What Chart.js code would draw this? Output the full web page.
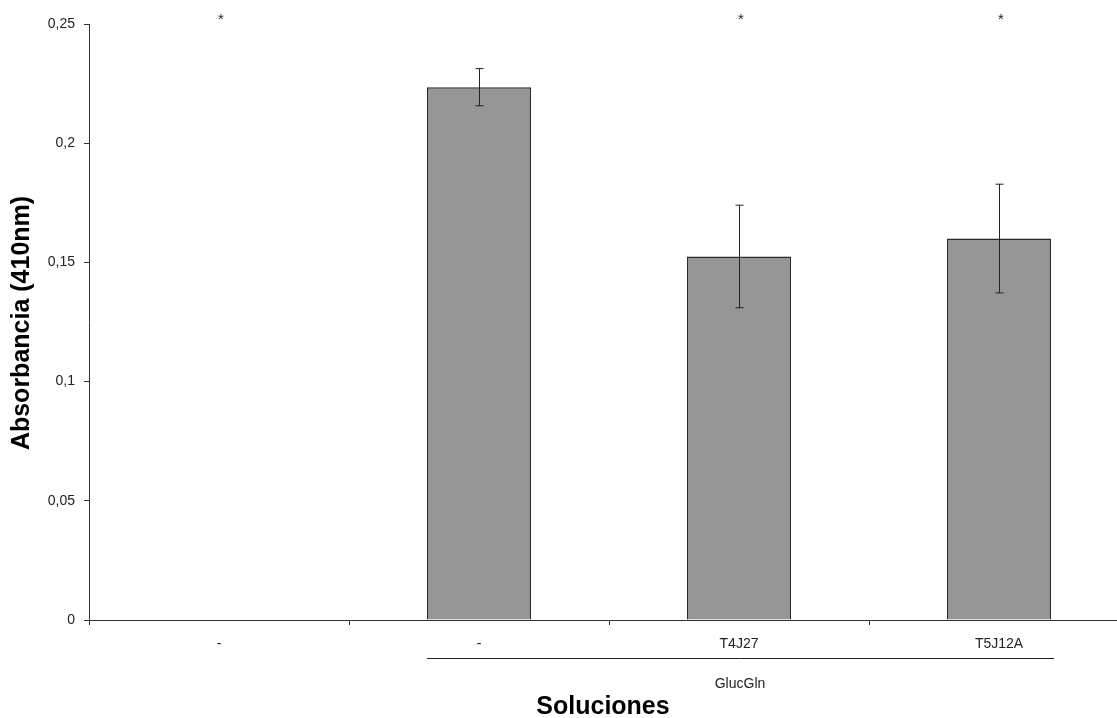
<!DOCTYPE html>
<html lang="es">
<head>
    <meta charset="UTF-8">
    <title>Absorbancia</title>
    <style>
        html, body {
            margin: 0;
            padding: 0;
            background-color: #ffffff;
            overflow: hidden;
        }
        #wrap {
            width: 1130px;
            height: 718px;
        }
    </style>
</head>
<body>
    <div id="wrap"><canvas id="chart" width="1130" height="718"></canvas></div>

    <script src="https://cdn.jsdelivr.net/npm/chart.js@4"></script>
    <script>
        // data
        const categories = ['-', '-', 'T4J27', 'T5J12A'];
        const absorbance = [null, 0.2235, 0.1525, 0.16];
        const errors = [null, 0.0078, 0.0215, 0.0228];
        const marks = ['*', '', '*', '*'];
        const groupLabel = 'GlucGln';
        const groupFrom = 1, groupTo = 3;
        const yTicks = [0, 0.05, 0.1, 0.15, 0.2, 0.25];

        const FONT = "'Liberation Sans', Arial, sans-serif";
        const INK = '#222222';

        // error bars, asterisks, group bracket and axis titles
        const extras = {
            id: 'extras',
            afterDatasetsDraw(chart) {
                const ctx = chart.ctx;
                const x = chart.scales.x, y = chart.scales.y;
                const meta = chart.getDatasetMeta(0);
                ctx.save();
                ctx.strokeStyle = INK;
                ctx.lineWidth = 1;
                errors.forEach((e, i) => {
                    if (e == null || absorbance[i] == null) return;
                    const cx = Math.round(x.getPixelForValue(i)) + 0.5;
                    const top = y.getPixelForValue(absorbance[i] + e);
                    const bot = y.getPixelForValue(absorbance[i] - e);
                    ctx.beginPath();
                    ctx.moveTo(cx, top); ctx.lineTo(cx, bot);
                    ctx.moveTo(cx - 4, top); ctx.lineTo(cx + 4, top);
                    ctx.moveTo(cx - 4, bot); ctx.lineTo(cx + 4, bot);
                    ctx.stroke();
                });

                ctx.fillStyle = INK;
                ctx.font = '15px ' + FONT;
                ctx.textAlign = 'center';
                ctx.textBaseline = 'middle';
                marks.forEach((m, i) => {
                    if (m) ctx.fillText(m, x.getPixelForValue(i) + 2, 20);
                });

                // bracket under the grouped categories
                const bw = meta.data[groupTo].width;
                const x0 = x.getPixelForValue(groupFrom) - bw / 2;
                const x1 = x.getPixelForValue(groupTo) + bw / 2 + 3;
                ctx.beginPath();
                ctx.moveTo(x0, 658.5); ctx.lineTo(x1, 658.5);
                ctx.stroke();
                ctx.font = '14px ' + FONT;
                ctx.fillText(groupLabel, x.getPixelForValue((groupFrom + groupTo) / 2) + 1, 684);

                ctx.font = 'bold 25px ' + FONT;
                ctx.fillStyle = '#000';
                ctx.fillText('Soluciones', 603, 707);
                ctx.translate(22, 323);
                ctx.rotate(-Math.PI / 2);
                ctx.fillText('Absorbancia (410nm)', 0, 0);
                ctx.restore();
            }
        };

        new Chart(document.getElementById('chart'), {
            type: 'bar',
            data: {
                labels: categories,
                datasets: [{
                    data: absorbance,
                    backgroundColor: '#969696',
                    borderColor: '#2a2a2a',
                    borderWidth: 1.5,
                    borderSkipped: 'start',
                    categoryPercentage: 1,
                    barPercentage: 0.4
                }]
            },
            options: {
                responsive: false,
                animation: false,
                layout: { padding: { top: 24, right: 1, left: 0, bottom: 0 } },
                plugins: {
                    legend: { display: false },
                    tooltip: { enabled: false }
                },
                scales: {
                    x: {
                        afterFit(s) { s.height = 98; },
                        border: { color: '#333', width: 1 },
                        grid: { display: true, drawOnChartArea: false, tickLength: 5, color: '#333', offset: true },
                        ticks: { color: INK, font: { family: FONT, size: 14 }, padding: 11, maxRotation: 0 }
                    },
                    y: {
                        min: 0,
                        max: 0.25,
                        afterFit(s) { s.width = 89; },
                        afterBuildTicks(s) { s.ticks = yTicks.map(v => ({ value: v })); },
                        border: { color: '#333', width: 1 },
                        grid: { display: true, drawOnChartArea: false, tickLength: 5, color: '#333' },
                        ticks: {
                            color: INK,
                            font: { family: FONT, size: 14 },
                            padding: 9,
                            callback: v => String(v).replace('.', ',')
                        }
                    }
                }
            },
            plugins: [extras]
        });
    </script>
</body>
</html>
